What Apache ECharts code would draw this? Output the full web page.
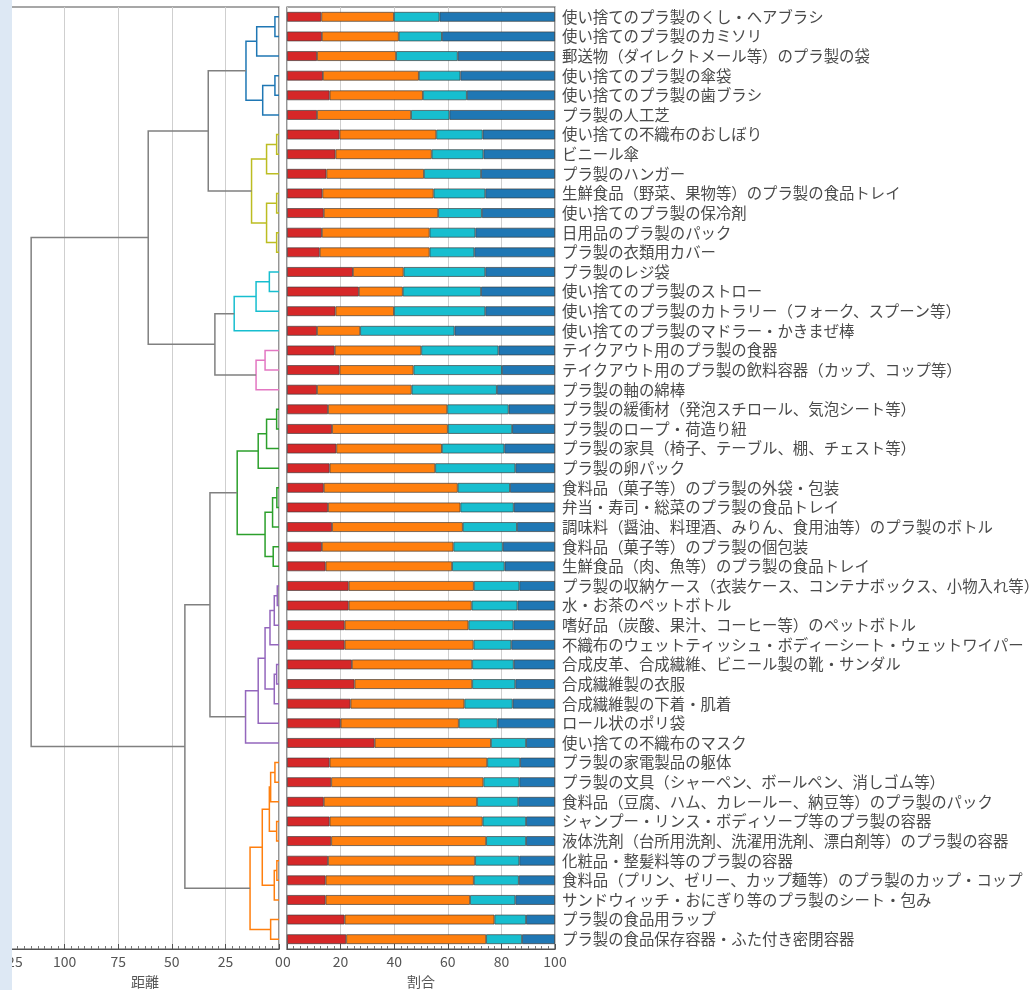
<!DOCTYPE html>
<html>
<head>
<meta charset="utf-8">
<script src="https://cdn.jsdelivr.net/npm/echarts@6/dist/echarts.min.js"></script>
<style>
  html, body { margin: 0; padding: 0; background: #fff; }
  #chart { width: 1036px; height: 990px; }
</style>
</head>
<body>
<div id="chart"></div>
<script>
// Items, top to bottom (leaf order of the dendrogram)
const categories = [
  '使い捨てのプラ製のくし・ヘアブラシ',
  '使い捨てのプラ製のカミソリ',
  '郵送物（ダイレクトメール等）のプラ製の袋',
  '使い捨てのプラ製の傘袋',
  '使い捨てのプラ製の歯ブラシ',
  'プラ製の人工芝',
  '使い捨ての不織布のおしぼり',
  'ビニール傘',
  'プラ製のハンガー',
  '生鮮食品（野菜、果物等）のプラ製の食品トレイ',
  '使い捨てのプラ製の保冷剤',
  '日用品のプラ製のパック',
  'プラ製の衣類用カバー',
  'プラ製のレジ袋',
  '使い捨てのプラ製のストロー',
  '使い捨てのプラ製のカトラリー（フォーク、スプーン等）',
  '使い捨てのプラ製のマドラー・かきまぜ棒',
  'テイクアウト用のプラ製の食器',
  'テイクアウト用のプラ製の飲料容器（カップ、コップ等）',
  'プラ製の軸の綿棒',
  'プラ製の緩衝材（発泡スチロール、気泡シート等）',
  'プラ製のロープ・荷造り紐',
  'プラ製の家具（椅子、テーブル、棚、チェスト等）',
  'プラ製の卵パック',
  '食料品（菓子等）のプラ製の外袋・包装',
  '弁当・寿司・総菜のプラ製の食品トレイ',
  '調味料（醤油、料理酒、みりん、食用油等）のプラ製のボトル',
  '食料品（菓子等）のプラ製の個包装',
  '生鮮食品（肉、魚等）のプラ製の食品トレイ',
  'プラ製の収納ケース（衣装ケース、コンテナボックス、小物入れ等）',
  '水・お茶のペットボトル',
  '嗜好品（炭酸、果汁、コーヒー等）のペットボトル',
  '不織布のウェットティッシュ・ボディーシート・ウェットワイパー',
  '合成皮革、合成繊維、ビニール製の靴・サンダル',
  '合成繊維製の衣服',
  '合成繊維製の下着・肌着',
  'ロール状のポリ袋',
  '使い捨ての不織布のマスク',
  'プラ製の家電製品の躯体',
  'プラ製の文具（シャーペン、ボールペン、消しゴム等）',
  '食料品（豆腐、ハム、カレールー、納豆等）のプラ製のパック',
  'シャンプー・リンス・ボディソープ等のプラ製の容器',
  '液体洗剤（台所用洗剤、洗濯用洗剤、漂白剤等）のプラ製の容器',
  '化粧品・整髪料等のプラ製の容器',
  '食料品（プリン、ゼリー、カップ麺等）のプラ製のカップ・コップ',
  'サンドウィッチ・おにぎり等のプラ製のシート・包み',
  'プラ製の食品用ラップ',
  'プラ製の食品保存容器・ふた付き密閉容器'
];

// Shares (%) of the four answer groups for each item
const shareA = [12.8, 13.0, 11.2, 13.4, 15.9, 11.2, 19.6, 18.1, 14.7, 13.2, 13.7, 13.0, 12.2, 24.6, 26.8, 18.1,
                11.2, 17.8, 19.6, 11.2, 15.3, 16.8, 18.4, 15.9, 13.7, 15.3, 16.8, 13.0, 14.4, 23.0, 23.0, 21.5,
                21.5, 24.2, 25.2, 23.7, 20.0, 32.7, 15.9, 16.5, 13.7, 15.9, 16.5, 15.3, 14.4, 14.4, 21.5, 22.1];
const shareB = [27.1, 28.7, 29.5, 35.8, 34.8, 35.1, 36.1, 35.9, 36.4, 41.5, 42.7, 40.2, 41.0, 18.9, 16.4, 21.8,
                16.1, 32.3, 27.6, 35.3, 44.5, 43.2, 39.4, 39.4, 50.0, 49.4, 48.8, 49.1, 47.2, 46.7, 45.9, 46.2,
                48.1, 44.9, 43.9, 42.5, 44.1, 43.4, 58.8, 56.8, 57.2, 57.1, 57.8, 54.9, 55.3, 53.9, 55.9, 52.2];
const shareC = [17.0, 16.1, 23.0, 15.5, 16.4, 14.3, 17.3, 19.3, 21.3, 19.3, 16.3, 17.1, 16.7, 30.5, 29.2, 34.1,
                35.2, 28.8, 33.0, 31.8, 22.9, 24.0, 23.3, 29.9, 19.5, 19.9, 20.2, 18.4, 19.6, 17.0, 17.1, 16.8,
                14.1, 15.5, 16.1, 18.0, 14.5, 13.1, 12.3, 13.4, 15.4, 16.2, 14.9, 16.5, 16.8, 16.9, 11.8, 13.4];
const shareD = [43.1, 42.2, 36.3, 35.3, 32.9, 39.4, 27.0, 26.7, 27.6, 26.0, 27.3, 29.7, 30.1, 26.0, 27.6, 26.0,
                37.5, 21.1, 19.8, 21.7, 17.3, 16.0, 18.9, 14.8, 16.8, 15.4, 14.2, 19.5, 18.8, 13.3, 14.0, 15.5,
                16.3, 15.4, 14.8, 15.8, 21.4, 10.8, 13.0, 13.3, 13.7, 10.8, 10.8, 13.3, 13.5, 14.8, 10.8, 12.3];

// Hierarchical clustering: merge k joins nodes mergeLeft[k] and mergeRight[k]
// (ids < 48 are items, id 48 + j is the cluster formed by merge j) at distance mergeHeight[k]
const mergeLeft  = [0, 48, 3, 50, 49,  6, 53,  9, 11, 55, 54, 52, 13, 60, 61, 17, 63, 62, 59, 20, 67, 68, 24, 70,
                    27, 71, 69, 29, 75, 76, 33, 78, 77, 80, 81, 74, 38, 84, 41, 85, 43, 88, 87, 46, 90, 83, 66];
const mergeRight = [1,  2, 4,  5, 51,  7,  8, 10, 12, 56, 57, 58, 14, 15, 16, 18, 19, 64, 65, 21, 22, 23, 25, 26,
                    28, 72, 73, 30, 31, 32, 34, 35, 79, 36, 37, 82, 39, 40, 42, 86, 44, 45, 89, 47, 91, 92, 93];
const mergeHeight = [1.9, 10.4, 1.9, 7.6, 15.4, 1.1, 5.8, 1.1, 1.1, 5.8, 12.8, 33.0, 4.5, 10.7, 20.9, 6.5, 10.7,
                     29.9, 61.0, 1.1, 5.8, 9.7, 1.0, 3.0, 2.7, 6.5, 19.5, 0.8, 2.2, 4.2, 1.1, 2.2, 6.5, 9.7, 15.6,
                     32.2, 1.9, 3.9, 1.1, 4.5, 1.0, 2.2, 7.8, 3.9, 13.5, 43.9, 115.6];
const colorThreshold = 25;

const distanceTicks = { min: 0, max: 125, interval: 25 };
const shareTicks = { min: 0, max: 100, interval: 20 };

const clusterPalette = ['#1f77b4', '#bcbd22', '#17becf', '#e377c2', '#2ca02c', '#9467bd', '#ff7f0e'];
const upperLinkColor = '#808080';
const barColors = ['#d62728', '#ff7f0e', '#17becf', '#1f77b4'];

// ---- dendrogram geometry from the linkage ----
const n = categories.length;
const nodePos = [], nodeH = [], parent = [];
for (let i = 0; i < n; i++) { nodePos[i] = i; nodeH[i] = 0; }
mergeLeft.forEach((a, k) => {
  const b = mergeRight[k], id = n + k;
  nodePos[id] = (nodePos[a] + nodePos[b]) / 2;
  nodeH[id] = mergeHeight[k];
  parent[a] = id; parent[b] = id;
});
function clusterRoot(id) {
  while (parent[id] !== undefined && nodeH[parent[id]] < colorThreshold) id = parent[id];
  return id;
}
const roots = [];
mergeLeft.forEach((a, k) => {
  const id = n + k;
  if (nodeH[id] < colorThreshold) {
    const r = clusterRoot(id);
    if (!roots.includes(r)) roots.push(r);
  }
});
roots.sort((p, q) => nodePos[p] - nodePos[q]);

const linkData = [], linkColors = [];
mergeLeft.forEach((a, k) => {
  const b = mergeRight[k], id = n + k;
  linkData.push([nodeH[a], nodePos[a], nodeH[id], nodePos[b], nodeH[b]]);
  linkColors.push(nodeH[id] < colorThreshold
    ? clusterPalette[roots.indexOf(clusterRoot(id)) % clusterPalette.length]
    : upperLinkColor);
});

// ---- chart ----
const FONT = '"Noto Sans CJK JP", "Noto Sans", sans-serif';
const axisGray = '#555';
const gridBorder = { show: true, borderColor: '#505050', borderWidth: 1.2, backgroundColor: 'transparent' };

const bottomAxisCommon = {
  type: 'value',
  position: 'bottom',
  nameLocation: 'middle',
  nameGap: 26,
  nameTextStyle: { color: axisGray, fontSize: 14, fontFamily: FONT },
  axisLine: { show: true, onZero: false, lineStyle: { color: '#505050', width: 1.2 } },
  axisTick: { show: true, inside: true, length: 5, lineStyle: { color: '#505050' } },
  minorTick: { show: true, splitNumber: 8, length: 3, lineStyle: { color: '#777' } },
  axisLabel: { color: axisGray, fontSize: 14, fontFamily: FONT, margin: 6 },
  splitLine: { show: true, lineStyle: { color: '#cfcfcf', width: 1 } }
};

const chart = echarts.init(document.getElementById('chart'), null, { renderer: 'canvas' });
chart.setOption({
  animation: false,
  backgroundColor: '#ffffff',
  grid: [
    Object.assign({ left: 11, top: 7, width: 268, bottom: 41, outerBoundsMode: 'none' }, gridBorder),
    Object.assign({ left: 287, top: 7, width: 268, bottom: 41, outerBoundsMode: 'none' }, gridBorder)
  ],
  xAxis: [
    Object.assign({}, bottomAxisCommon, {
      gridIndex: 0, name: '距離', inverse: true,
      min: distanceTicks.min, max: distanceTicks.max, interval: distanceTicks.interval
    }),
    Object.assign({}, bottomAxisCommon, {
      gridIndex: 1, name: '割合',
      min: shareTicks.min, max: shareTicks.max, interval: shareTicks.interval
    })
  ],
  yAxis: [
    { type: 'value', gridIndex: 0, min: -0.5, max: n - 0.5, inverse: true, show: false },
    {
      type: 'category', gridIndex: 1, data: categories, inverse: true, position: 'right',
      axisLine: { show: false }, axisTick: { show: false }, splitLine: { show: false },
      axisLabel: { color: '#4a4a4a', fontSize: 15.4, fontFamily: FONT, margin: 7, interval: 0 }
    }
  ],
  graphic: [
    { type: 'rect', left: 0, top: 0, z: 100, shape: { width: 12, height: 990 }, style: { fill: '#dde8f4' } }
  ],
  series: [
    {
      type: 'custom', xAxisIndex: 0, yAxisIndex: 0, data: linkData,
      encode: { x: [0, 2, 4], y: [1, 3] }, silent: true,
      renderItem: function (params, api) {
        const hA = api.value(0), yA = api.value(1), h = api.value(2), yB = api.value(3), hB = api.value(4);
        return {
          type: 'polyline',
          shape: { points: [api.coord([hA, yA]), api.coord([h, yA]), api.coord([h, yB]), api.coord([hB, yB])] },
          style: { stroke: linkColors[params.dataIndex], lineWidth: 1.5, fill: null }
        };
      }
    }
  ].concat([shareA, shareB, shareC, shareD].map((vals, i) => ({
    type: 'bar', name: 'group' + (i + 1), xAxisIndex: 1, yAxisIndex: 1, stack: 'share',
    data: vals, barCategoryGap: '50%', silent: true,
    itemStyle: { color: barColors[i], borderColor: 'rgba(60,60,60,0.85)', borderWidth: 0.8 }
  })))
});
</script>
</body>
</html>
